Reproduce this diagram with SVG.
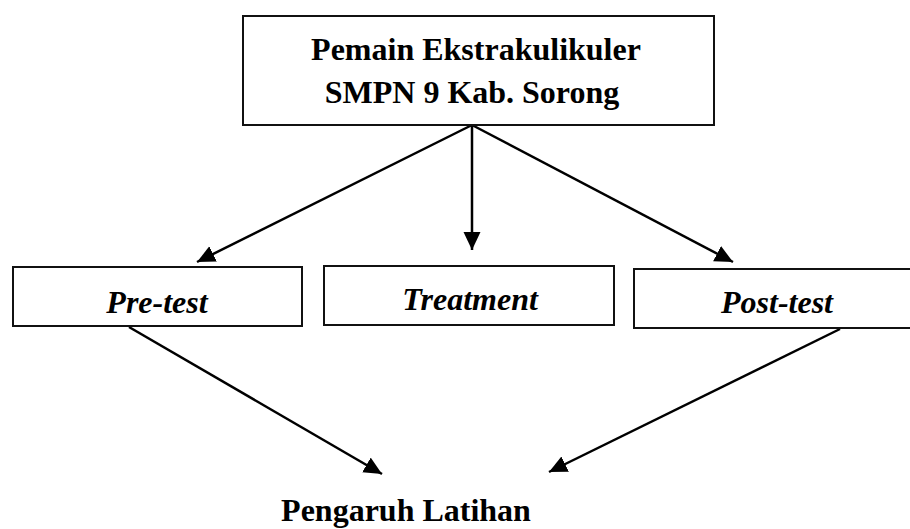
<svg xmlns="http://www.w3.org/2000/svg" width="910" height="529" viewBox="0 0 910 529">
<style>
.box{fill:#fff;stroke:#111;stroke-width:2}
.t{font-family:"Liberation Serif","Times New Roman",serif;font-size:32px;font-weight:bold;fill:#000;text-anchor:middle}
.i{font-style:italic}
.c{stroke:#000;stroke-width:2.5;fill:none;marker-end:url(#ah)}
</style>
<defs>
<marker id="ah" markerUnits="userSpaceOnUse" markerWidth="20" markerHeight="18" refX="18" refY="8.5" orient="auto">
<path d="M0,0 L18,8.5 L0,17 z" fill="#000"/>
</marker>
</defs>
<rect width="910" height="529" fill="#fff"/>
<g id="connectors">
<line class="c" x1="472" y1="125" x2="197" y2="262"/>
<line class="c" x1="472" y1="125" x2="472" y2="250"/>
<line class="c" x1="472" y1="125" x2="733" y2="262"/>
<line class="c" x1="129" y1="327" x2="382" y2="474"/>
<line class="c" x1="840" y1="329" x2="549" y2="472"/>
</g>
<g id="node-top">
<rect class="box" x="243" y="16" width="471" height="109"/>
<text class="t" x="476" y="60">Pemain Ekstrakulikuler</text>
<text class="t" x="472" y="103">SMPN 9 Kab. Sorong</text>
</g>
<g id="node-pretest">
<rect class="box" x="13" y="267" width="289" height="59"/>
<text class="t i" x="157" y="313">Pre-test</text>
</g>
<g id="node-treatment">
<rect class="box" x="324" y="266" width="290" height="59"/>
<text class="t i" x="470" y="310">Treatment</text>
</g>
<g id="node-posttest">
<rect class="box" x="634" y="269" width="290" height="59"/>
<text class="t i" x="777" y="313">Post-test</text>
</g>
<g id="node-result">
<text class="t" x="406" y="521">Pengaruh Latihan</text>
</g>
</svg>
